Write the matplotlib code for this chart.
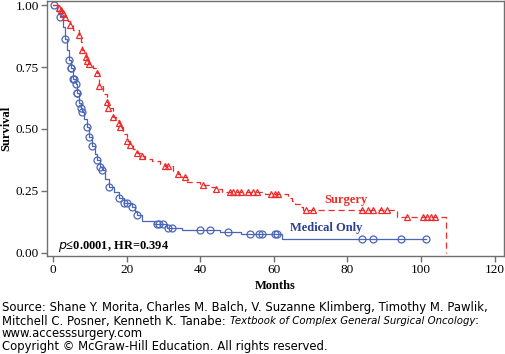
import numpy as np
import matplotlib
matplotlib.use("Agg")
import matplotlib.pyplot as plt

# ---- data ----
med_t = [0, 1.0, 1.9, 2.6, 3.3, 3.9, 4.4, 4.9, 5.5, 6.2, 6.5, 7.0, 7.5, 7.8, 8.5, 9.3, 9.9,
         10.6, 11.3, 12.0, 12.8, 13.2, 14.0, 15.3, 16.5, 18.0, 19.4, 21.4, 22.2, 22.7, 24.1,
         27.5, 31.0, 35.0, 45.4, 51.0, 62.1, 101.3]
med_s = [1.0, 0.975, 0.953, 0.91, 0.863, 0.82, 0.778, 0.745, 0.70, 0.68, 0.646, 0.604, 0.583,
         0.567, 0.54, 0.509, 0.467, 0.433, 0.40, 0.375, 0.348, 0.335, 0.30, 0.268, 0.245, 0.223,
         0.203, 0.187, 0.17, 0.153, 0.130, 0.117, 0.102, 0.093, 0.083, 0.077, 0.055, 0.055]
med_cens = [0.35, 1.9, 3.3, 4.4, 4.9, 5.0, 5.5, 5.8, 6.2, 6.5, 6.6, 7.0, 7.5, 7.8, 9.3, 9.9,
            10.6, 12.0, 12.8, 13.2, 15.3, 18.0, 19.4, 20.0, 21.4, 22.7, 28.2, 28.8, 29.8, 31.3,
            32.4, 40.0, 42.7, 47.5, 53.5, 56.0, 56.9, 60.3, 61.0, 84.1, 86.9, 94.7, 101.3]

surg_t = [0, 1.5, 2.2, 2.6, 3.3, 4.0, 4.6, 5.5, 7.1, 7.5, 8.0, 9.0, 9.3, 9.9, 11.0, 11.9, 12.5,
          13.5, 14.6, 15.0, 16.2, 17.0, 17.8, 18.2, 19.0, 20.0, 20.9, 21.8, 22.7, 24.1, 25.0,
          27.0, 29.0, 30.4, 32.5, 33.9, 35.0, 36.5, 40.0, 40.8, 42.5, 44.2, 46.0, 57.6, 63.9,
          64.9, 65.8, 67.1, 68.0, 93.4, 106.8]
surg_s = [1.0, 0.99, 0.98, 0.969, 0.953, 0.935, 0.919, 0.90, 0.879, 0.85, 0.819, 0.789, 0.774,
          0.762, 0.745, 0.727, 0.673, 0.64, 0.61, 0.583, 0.55, 0.535, 0.523, 0.509, 0.48, 0.453,
          0.435, 0.42, 0.405, 0.391, 0.38, 0.37, 0.36, 0.351, 0.33, 0.319, 0.305, 0.288, 0.28,
          0.274, 0.265, 0.258, 0.247, 0.238, 0.223, 0.211, 0.198, 0.184, 0.173, 0.144, 0.0]
surg_cens = [1.7, 2.2, 2.6, 3.3, 4.6, 7.1, 8.0, 9.0, 9.3, 9.9, 11.9, 12.5, 14.6, 15.0, 16.2,
             17.8, 18.2, 20.0, 20.9, 22.7, 24.1, 30.4, 31.3, 33.9, 35.9, 40.8, 44.2, 48.1, 49.0,
             50.1, 51.0, 53.1, 54.4, 55.5, 59.2, 60.3, 61.2, 68.8, 70.7, 83.9, 85.7, 87.0, 89.1,
             90.7, 96.1, 100.5, 101.5, 102.6, 103.8]

x_ticks = [0, 20, 40, 60, 80, 100, 120]
y_ticks = [0.0, 0.25, 0.50, 0.75, 1.00]
y_ticklabels = ["0.00", "0.25", "0.50", "0.75", "1.00"]

source_line1 = "Source: Shane Y. Morita, Charles M. Balch, V. Suzanne Klimberg, Timothy M. Pawlik,"
source_line2a = "Mitchell C. Posner, Kenneth K. Tanabe: "
source_line2b = "Textbook of Complex General Surgical Oncology"
source_line2c = ":"
source_line3 = "www.accesssurgery.com"
source_line4 = "Copyright \u00a9 McGraw-Hill Education. All rights reserved."

def step_value(ts, ss, t):
    idx = np.searchsorted(np.asarray(ts), t, side="right") - 1
    return np.asarray(ss)[idx]

BLUE = "#4a66b8"
BLUE_TXT = "#2b3f95"
RED = "#ee2a2a"
SERIF = "Liberation Serif"
SANS = "DejaVu Sans"

W, H = 506, 354
fig = plt.figure(figsize=(W / 100, H / 100), dpi=100)
ax = fig.add_axes([0.0929, 0.277, 0.9031, 0.720])

ax.plot(med_t, med_s, drawstyle="steps-post", color=BLUE, lw=0.9)
ax.plot(med_cens, step_value(med_t, med_s, med_cens), ls="none", marker="o", ms=5,
        mfc="none", mec=BLUE, mew=0.9)

ax.plot(surg_t, surg_s, drawstyle="steps-post", color=RED, lw=0.9, ls=(0, (5, 3)))
ax.plot(surg_cens, step_value(surg_t, surg_s, surg_cens), ls="none", marker="^", ms=4.5,
        mfc="none", mec=RED, mew=0.9)

ax.set_xlim(-1.63, 122.55)
ax.set_ylim(-0.012, 1.016)
ax.set_xticks(x_ticks)
ax.set_xticklabels([str(v) for v in x_ticks], fontfamily=SERIF, fontsize=9.5)
ax.set_yticks(y_ticks)
ax.set_yticklabels(y_ticklabels, fontfamily=SERIF, fontsize=9.5)
for sp in ax.spines.values():
    sp.set_color("#707070")
    sp.set_linewidth(1.0)
ax.tick_params(direction="out", length=4, color="#707070", width=1, pad=2)

ax.set_ylabel("Survival", fontfamily=SERIF, fontweight="bold", fontsize=9)
ax.yaxis.set_label_coords(-0.076, 0.5)
ax.set_xlabel("Months", fontfamily=SERIF, fontweight="bold", fontsize=9, labelpad=3)

ax.text(79.5, 0.215, "Surgery", color=RED, fontfamily=SERIF, fontweight="bold", fontsize=9,
        ha="center", va="center")
ax.text(74.2, 0.10, "Medical Only", color=BLUE_TXT, fontfamily=SERIF, fontweight="bold",
        fontsize=9, ha="center", va="center")
ax.text(1.4, 0.025, "$\\mathbf{\\it{p}}$\u22640.0001, HR=0.394", color="black", fontfamily=SERIF,
        fontweight="bold", fontsize=9, ha="left", va="center")

# ---- source block (sizes fitted so lines span like the reference) ----
renderer = fig.canvas.get_renderer()

def width_at(text, size, style="normal"):
    p = fig.text(0, 0, text, fontfamily=SANS, fontsize=size, style=style)
    w = p.get_window_extent(renderer).width
    p.remove()
    return w

fs = 10 * 484 / width_at(source_line1, 10)
fs_it = min(fs, 10 * 244 / width_at(source_line2b, 10, "italic"))

baselines = [311.5, 324.5, 337.5, 350.0]
x0 = 2 / W
fig.text(x0, 1 - baselines[0] / H, source_line1, fontfamily=SANS, fontsize=fs, ha="left",
         va="baseline")
xpos = x0
for piece, style, size in [(source_line2a, "normal", fs), (source_line2b, "italic", fs_it),
                           (source_line2c, "normal", fs)]:
    t = fig.text(xpos, 1 - baselines[1] / H, piece, fontfamily=SANS, fontsize=size, style=style,
                 ha="left", va="baseline")
    xpos = fig.transFigure.inverted().transform(
        (t.get_window_extent(renderer).x1, 0))[0]
fig.text(x0, 1 - baselines[2] / H, source_line3, fontfamily=SANS, fontsize=fs, ha="left",
         va="baseline")
fig.text(x0, 1 - baselines[3] / H, source_line4, fontfamily=SANS, fontsize=fs, ha="left",
         va="baseline")

fig.savefig("out.png", dpi=100)
